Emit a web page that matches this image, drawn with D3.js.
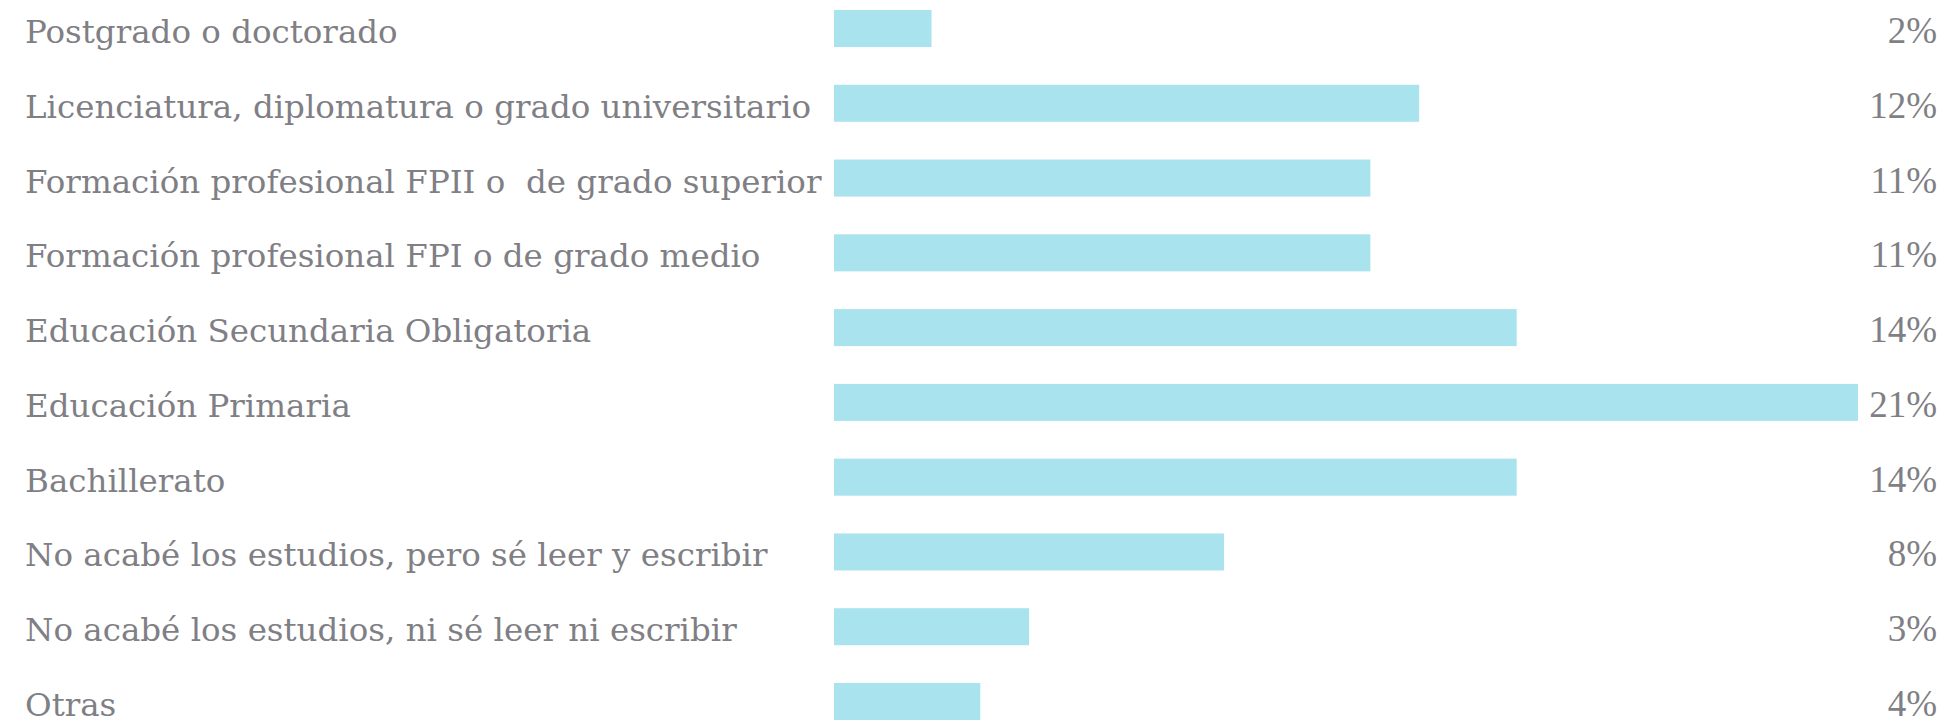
<!DOCTYPE html>
<html lang="es">
<head>
<meta charset="UTF-8">
<title>Nivel de estudios</title>
<script src="https://d3js.org/d3.v7.min.js"></script>
<style>
    body { margin: 0; background: #fff; }
    text { fill: #7f7f85; white-space: pre; }
    .cat { font-family: "DejaVu Serif", serif; }
    .pct { font-family: "Liberation Serif", serif; }
</style>
</head>
<body>
<script>
    // categorias, de arriba a abajo
    var categories = [
        "Postgrado o doctorado",
        "Licenciatura, diplomatura o grado universitario",
        "Formación profesional FPII o  de grado superior",
        "Formación profesional FPI o de grado medio",
        "Educación Secundaria Obligatoria",
        "Educación Primaria",
        "Bachillerato",
        "No acabé los estudios, pero sé leer y escribir",
        "No acabé los estudios, ni sé leer ni escribir",
        "Otras"
    ];
    // longitud de las barras (%)
    var values = [2, 12, 11, 11, 14, 21, 14, 8, 4, 3];
    // etiquetas tal como aparecen a la derecha
    var valueLabels = ["2%", "12%", "11%", "11%", "14%", "21%", "14%", "8%", "3%", "4%"];

    var w = 1941, h = 720;
    var svg = d3.select("body").append("svg")
        .attr("width", w)
        .attr("height", h);

    var x = d3.scaleLinear().domain([0, 21]).range([834, 1858]);
    var y = d3.scaleBand().domain(categories).range([10, 720]).paddingInner(0.505).paddingOuter(0);

    svg.selectAll("rect.bar")
        .data(categories)
        .enter().append("rect")
        .attr("class", "bar")
        .attr("x", x(0))
        .attr("y", d => y(d))
        .attr("width", (d, i) => x(values[i]) - x(0))
        .attr("height", y.bandwidth())
        .attr("fill", "#a9e3ee");

    svg.selectAll("text.cat")
        .data(categories)
        .enter().append("text")
        .attr("class", "cat")
        .attr("x", 25)
        .attr("y", d => y(d) + y.bandwidth() - 4)
        .attr("font-size", 32.5)
        .text(d => d);

    svg.selectAll("text.pct")
        .data(categories)
        .enter().append("text")
        .attr("class", "pct")
        .attr("x", 1937)
        .attr("y", d => y(d) + y.bandwidth() - 4)
        .attr("text-anchor", "end")
        .attr("font-size", 37)
        .text((d, i) => valueLabels[i]);
</script>
</body>
</html>
